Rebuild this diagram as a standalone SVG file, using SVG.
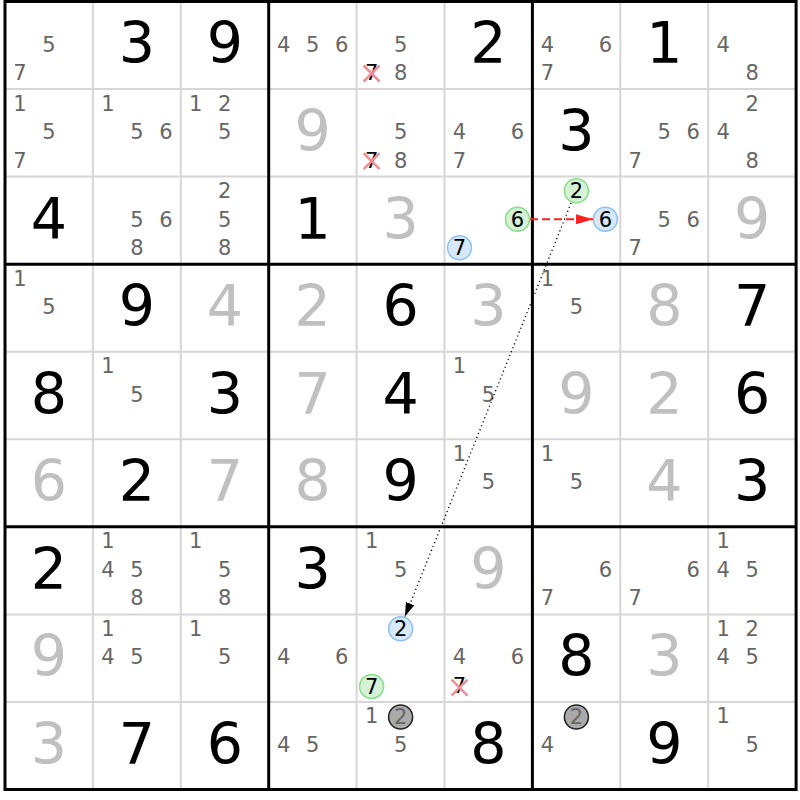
<svg xmlns="http://www.w3.org/2000/svg" width="800" height="800" viewBox="0 0 800 800">
<style>
text{font-family:"DejaVu Sans","Liberation Sans",sans-serif;text-anchor:middle}
.g{font-size:57px;fill:#000}
.s{font-size:57px;fill:#c0c0c0}
.c{font-size:21px;fill:#666}
.k{font-size:21px;fill:#000}
.kg{font-size:21px;fill:#666}
.thin{stroke:#d6d6d6;stroke-width:2}
.thick{stroke:#000;stroke-width:3}
.cg{fill:#d5f2d5;stroke:#88dd88;stroke-width:1.5}
.cb{fill:#d6e8fa;stroke:#8cc0f0;stroke-width:1.5}
.cx{fill:#aaaaaa;stroke:#222;stroke-width:1.5}
.x{stroke:#f28c96;stroke-width:2.5}
</style>
<defs>
<marker id="ar" markerUnits="userSpaceOnUse" markerWidth="17" markerHeight="10" refX="17" refY="5" orient="auto"><path d="M0,0 L17,5 L0,10 z" fill="#ff2020"/></marker>
<marker id="ab" markerUnits="userSpaceOnUse" markerWidth="14" markerHeight="10" refX="14" refY="5" orient="auto"><path d="M0,0.5 L14,5 L0,9.5 z" fill="#000"/></marker>
</defs>
<rect width="800" height="800" fill="#fff"/>
<g id="grid">
<g class="thin">
<line x1="92.9" y1="1.5" x2="92.9" y2="789.5"/><line x1="180.8" y1="1.5" x2="180.8" y2="789.5"/>
<line x1="356.6" y1="1.5" x2="356.6" y2="789.5"/><line x1="444.5" y1="1.5" x2="444.5" y2="789.5"/>
<line x1="620.3" y1="1.5" x2="620.3" y2="789.5"/><line x1="708.2" y1="1.5" x2="708.2" y2="789.5"/>
<line x1="5" y1="89.1" x2="796.1" y2="89.1"/><line x1="5" y1="176.6" x2="796.1" y2="176.6"/>
<line x1="5" y1="351.7" x2="796.1" y2="351.7"/><line x1="5" y1="439.3" x2="796.1" y2="439.3"/>
<line x1="5" y1="614.4" x2="796.1" y2="614.4"/><line x1="5" y1="701.9" x2="796.1" y2="701.9"/>
</g>
<g class="thick" fill="none">
<line x1="268.7" y1="1.5" x2="268.7" y2="789.5"/><line x1="532.4" y1="1.5" x2="532.4" y2="789.5"/>
<line x1="5" y1="264.2" x2="796.1" y2="264.2"/><line x1="5" y1="526.8" x2="796.1" y2="526.8"/>
<rect x="5" y="1.5" width="791.1" height="788"/>
</g>
</g>
<g id="r1c1"><text class="c" x="49" y="51.5">5</text><text class="c" x="20" y="80">7</text></g>
<g id="r1c2"><text class="g" x="136.9" y="63">3</text></g>
<g id="r1c3"><text class="g" x="224.8" y="63">9</text></g>
<g id="r1c4"><text class="c" x="283.7" y="51.5">4</text><text class="c" x="312.7" y="51.5">5</text><text class="c" x="341.7" y="51.5">6</text></g>
<g id="r1c5"><text class="c" x="400.6" y="51.5">5</text><text class="k" x="371.6" y="80">7</text><path class="x" d="M363.6,65.5 L379.6,81.5 M379.6,65.5 L363.6,81.5"/><text class="c" x="400.6" y="80">8</text></g>
<g id="r1c6"><text class="g" x="488.5" y="63">2</text></g>
<g id="r1c7"><text class="c" x="547.4" y="51.5">4</text><text class="c" x="605.4" y="51.5">6</text><text class="c" x="547.4" y="80">7</text></g>
<g id="r1c8"><text class="g" x="664.3" y="63">1</text></g>
<g id="r1c9"><text class="c" x="723.2" y="51.5">4</text><text class="c" x="752.2" y="80">8</text></g>

<g id="r2c1"><text class="c" x="20" y="110.6">1</text><text class="c" x="49" y="139.1">5</text><text class="c" x="20" y="167.6">7</text></g>
<g id="r2c2"><text class="c" x="107.9" y="110.6">1</text><text class="c" x="136.9" y="139.1">5</text><text class="c" x="165.9" y="139.1">6</text></g>
<g id="r2c3"><text class="c" x="195.8" y="110.6">1</text><text class="c" x="224.8" y="110.6">2</text><text class="c" x="224.8" y="139.1">5</text></g>
<g id="r2c4"><text class="s" x="312.7" y="151">9</text></g>
<g id="r2c5"><text class="c" x="400.6" y="139.1">5</text><text class="k" x="371.6" y="167.6">7</text><path class="x" d="M363.6,153.1 L379.6,169.1 M379.6,153.1 L363.6,169.1"/><text class="c" x="400.6" y="167.6">8</text></g>
<g id="r2c6"><text class="c" x="459.5" y="139.1">4</text><text class="c" x="517.5" y="139.1">6</text><text class="c" x="459.5" y="167.6">7</text></g>
<g id="r2c7"><text class="g" x="576.4" y="151">3</text></g>
<g id="r2c8"><text class="c" x="664.3" y="139.1">5</text><text class="c" x="693.3" y="139.1">6</text><text class="c" x="635.3" y="167.6">7</text></g>
<g id="r2c9"><text class="c" x="752.2" y="110.6">2</text><text class="c" x="723.2" y="139.1">4</text><text class="c" x="752.2" y="167.6">8</text></g>

<g id="r3c1"><text class="g" x="49" y="238.5">4</text></g>
<g id="r3c2"><text class="c" x="136.9" y="226.6">5</text><text class="c" x="165.9" y="226.6">6</text><text class="c" x="136.9" y="255.1">8</text></g>
<g id="r3c3"><text class="c" x="224.8" y="198.1">2</text><text class="c" x="224.8" y="226.6">5</text><text class="c" x="224.8" y="255.1">8</text></g>
<g id="r3c4"><text class="g" x="312.7" y="238.5">1</text></g>
<g id="r3c5"><text class="s" x="400.6" y="238.5">3</text></g>
<g id="r3c6"><circle class="cg" cx="517.5" cy="219.3" r="12"/><text class="k" x="517.5" y="226.6">6</text><circle class="cb" cx="459.5" cy="247.8" r="12"/><text class="k" x="459.5" y="255.1">7</text></g>
<g id="r3c7"><circle class="cg" cx="576.4" cy="190.8" r="12"/><text class="k" x="576.4" y="198.1">2</text><circle class="cb" cx="605.4" cy="219.3" r="12"/><text class="k" x="605.4" y="226.6">6</text></g>
<g id="r3c8"><text class="c" x="664.3" y="226.6">5</text><text class="c" x="693.3" y="226.6">6</text><text class="c" x="635.3" y="255.1">7</text></g>
<g id="r3c9"><text class="s" x="752.2" y="238.5">9</text></g>

<g id="r4c1"><text class="c" x="20" y="285.7">1</text><text class="c" x="49" y="314.2">5</text></g>
<g id="r4c2"><text class="g" x="136.9" y="326">9</text></g>
<g id="r4c3"><text class="s" x="224.8" y="326">4</text></g>
<g id="r4c4"><text class="s" x="312.7" y="326">2</text></g>
<g id="r4c5"><text class="g" x="400.6" y="326">6</text></g>
<g id="r4c6"><text class="s" x="488.5" y="326">3</text></g>
<g id="r4c7"><text class="c" x="547.4" y="285.7">1</text><text class="c" x="576.4" y="314.2">5</text></g>
<g id="r4c8"><text class="s" x="664.3" y="326">8</text></g>
<g id="r4c9"><text class="g" x="752.2" y="326">7</text></g>

<g id="r5c1"><text class="g" x="49" y="413.5">8</text></g>
<g id="r5c2"><text class="c" x="107.9" y="373.2">1</text><text class="c" x="136.9" y="401.7">5</text></g>
<g id="r5c3"><text class="g" x="224.8" y="413.5">3</text></g>
<g id="r5c4"><text class="s" x="312.7" y="413.5">7</text></g>
<g id="r5c5"><text class="g" x="400.6" y="413.5">4</text></g>
<g id="r5c6"><text class="c" x="459.5" y="373.2">1</text><text class="c" x="488.5" y="401.7">5</text></g>
<g id="r5c7"><text class="s" x="576.4" y="413.5">9</text></g>
<g id="r5c8"><text class="s" x="664.3" y="413.5">2</text></g>
<g id="r5c9"><text class="g" x="752.2" y="413.5">6</text></g>

<g id="r6c1"><text class="s" x="49" y="501">6</text></g>
<g id="r6c2"><text class="g" x="136.9" y="501">2</text></g>
<g id="r6c3"><text class="s" x="224.8" y="501">7</text></g>
<g id="r6c4"><text class="s" x="312.7" y="501">8</text></g>
<g id="r6c5"><text class="g" x="400.6" y="501">9</text></g>
<g id="r6c6"><text class="c" x="459.5" y="460.8">1</text><text class="c" x="488.5" y="489.3">5</text></g>
<g id="r6c7"><text class="c" x="547.4" y="460.8">1</text><text class="c" x="576.4" y="489.3">5</text></g>
<g id="r6c8"><text class="s" x="664.3" y="501">4</text></g>
<g id="r6c9"><text class="g" x="752.2" y="501">3</text></g>

<g id="r7c1"><text class="g" x="49" y="588.6">2</text></g>
<g id="r7c2"><text class="c" x="107.9" y="548.3">1</text><text class="c" x="107.9" y="576.8">4</text><text class="c" x="136.9" y="576.8">5</text><text class="c" x="136.9" y="605.3">8</text></g>
<g id="r7c3"><text class="c" x="195.8" y="548.3">1</text><text class="c" x="224.8" y="576.8">5</text><text class="c" x="224.8" y="605.3">8</text></g>
<g id="r7c4"><text class="g" x="312.7" y="588.6">3</text></g>
<g id="r7c5"><text class="c" x="371.6" y="548.3">1</text><text class="c" x="400.6" y="576.8">5</text></g>
<g id="r7c6"><text class="s" x="488.5" y="588.6">9</text></g>
<g id="r7c7"><text class="c" x="605.4" y="576.8">6</text><text class="c" x="547.4" y="605.3">7</text></g>
<g id="r7c8"><text class="c" x="693.3" y="576.8">6</text><text class="c" x="635.3" y="605.3">7</text></g>
<g id="r7c9"><text class="c" x="723.2" y="548.3">1</text><text class="c" x="723.2" y="576.8">4</text><text class="c" x="752.2" y="576.8">5</text></g>

<g id="r8c1"><text class="s" x="49" y="676.2">9</text></g>
<g id="r8c2"><text class="c" x="107.9" y="635.9">1</text><text class="c" x="107.9" y="664.4">4</text><text class="c" x="136.9" y="664.4">5</text></g>
<g id="r8c3"><text class="c" x="195.8" y="635.9">1</text><text class="c" x="224.8" y="664.4">5</text></g>
<g id="r8c4"><text class="c" x="283.7" y="664.4">4</text><text class="c" x="341.7" y="664.4">6</text></g>
<g id="r8c5"><circle class="cb" cx="400.6" cy="628.8" r="12"/><text class="k" x="400.6" y="636.1">2</text><circle class="cg" cx="371.6" cy="686.4" r="12"/><text class="k" x="371.6" y="693.7">7</text></g>
<g id="r8c6"><text class="c" x="459.5" y="664.4">4</text><text class="c" x="517.5" y="664.4">6</text><text class="k" x="459.5" y="693.1">7</text><path class="x" d="M451.5,679.6 L467.5,695.6 M467.5,679.6 L451.5,695.6"/></g>
<g id="r8c7"><text class="g" x="576.4" y="676.2">8</text></g>
<g id="r8c8"><text class="s" x="664.3" y="676.2">3</text></g>
<g id="r8c9"><text class="c" x="723.2" y="635.9">1</text><text class="c" x="752.2" y="635.9">2</text><text class="c" x="723.2" y="664.4">4</text><text class="c" x="752.2" y="664.4">5</text></g>

<g id="r9c1"><text class="s" x="49" y="763.7">3</text></g>
<g id="r9c2"><text class="g" x="136.9" y="763.7">7</text></g>
<g id="r9c3"><text class="g" x="224.8" y="763.7">6</text></g>
<g id="r9c4"><text class="c" x="283.7" y="751.9">4</text><text class="c" x="312.7" y="751.9">5</text></g>
<g id="r9c5"><text class="c" x="371.6" y="723.4">1</text><circle class="cx" cx="400.6" cy="717" r="12"/><text class="kg" x="400.6" y="724.3">2</text><text class="c" x="400.6" y="751.9">5</text></g>
<g id="r9c6"><text class="g" x="488.5" y="763.7">8</text></g>
<g id="r9c7"><circle class="cx" cx="576.4" cy="717" r="12"/><text class="kg" x="576.4" y="724.3">2</text><text class="c" x="547.4" y="751.9">4</text></g>
<g id="r9c8"><text class="g" x="664.3" y="763.7">9</text></g>
<g id="r9c9"><text class="c" x="723.2" y="723.4">1</text><text class="c" x="752.2" y="751.9">5</text></g>

<g id="connectors">
<line x1="530" y1="219.3" x2="593" y2="219.3" stroke="#ff2020" stroke-width="2" stroke-dasharray="8 4" marker-end="url(#ar)"/>
<line x1="571.1" y1="203" x2="404.9" y2="616.6" stroke="#000" stroke-width="1.3" stroke-dasharray="1.2 3" marker-end="url(#ab)"/>
</g>
</svg>
